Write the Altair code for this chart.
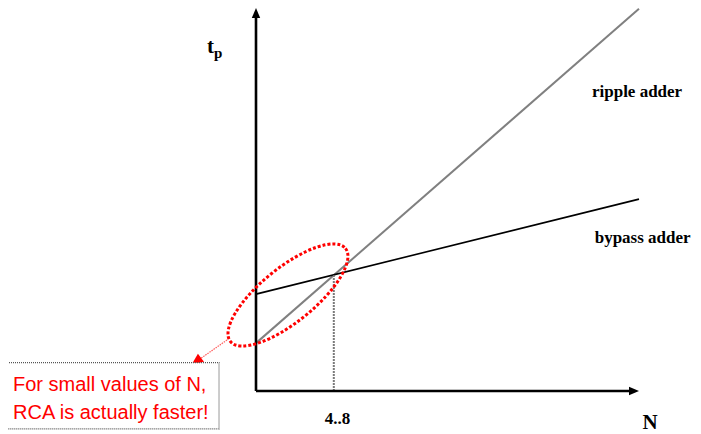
import altair as alt
import pandas as pd

# ---- data ----
N_END = [0, 32]                 # N range of the two curves
RIPPLE_T = [12.5, 99.8]         # ripple adder delay at N_END
BYPASS_T = [25.3, 50.1]         # bypass adder delay at N_END
CROSS_N = 6.5                   # crossover point
CROSS_T = 30.2

X_DOM = [0, 32]
Y_DOM = [0, 100]
PW, PH = 383, 383

xs = alt.Scale(domain=X_DOM, nice=False, zero=False)
ys = alt.Scale(domain=Y_DOM, nice=False, zero=False)


def X(f="x"):
    return alt.X(f"{f}:Q", scale=xs, axis=None)


def Y(f="y"):
    return alt.Y(f"{f}:Q", scale=ys, axis=None)


ripple_df = pd.DataFrame({"x": N_END, "y": RIPPLE_T})
bypass_df = pd.DataFrame({"x": N_END, "y": BYPASS_T})

# axes with arrowheads
axes_df = pd.DataFrame({"x": [0, 0], "y": [0, 0], "x2": [31.4, 0], "y2": [0, 98.2]})
axis_tip_df = pd.DataFrame({"x": [32, 0], "y": [0, 100], "a": [90, 0]})
ARROW_PATH = "M0,0 L-0.42,1 L0.42,1 Z"

axes = alt.Chart(axes_df).mark_rule(color="black", strokeWidth=2.6).encode(
    x=X(), y=Y(), x2="x2:Q", y2="y2:Q")
axis_tips = alt.Chart(axis_tip_df).mark_point(
    shape=ARROW_PATH, filled=True, color="black", opacity=1, size=400
).encode(x=X(), y=Y(), angle=alt.Angle("a:Q", scale=None))

ripple = alt.Chart(ripple_df).mark_line(color="#808080", strokeWidth=2).encode(x=X(), y=Y())
bypass = alt.Chart(bypass_df).mark_line(color="black", strokeWidth=1.6).encode(x=X(), y=Y())

cross_df = pd.DataFrame({"x": [CROSS_N], "y": [0], "y2": [CROSS_T]})
cross = alt.Chart(cross_df).mark_rule(color="#7a7a7a", strokeWidth=2, strokeDash=[2, 1]).encode(
    x=X(), y=Y(), y2="y2:Q")

# red dotted ellipse around the crossover region
E_A, E_B = 74, 27
e = E_B / E_A
k = 0.5523
ke = k * e
ELLIPSE = (f"M1,0 C1,{ke:.4f} {k},{e:.4f} 0,{e:.4f} "
           f"C{-k},{e:.4f} -1,{ke:.4f} -1,0 "
           f"C-1,{-ke:.4f} {-k},{-e:.4f} 0,{-e:.4f} "
           f"C{k},{-e:.4f} 1,{-ke:.4f} 1,0 Z")
ell_df = pd.DataFrame({"x": [2.67], "y": [25.07]})
ellipse = alt.Chart(ell_df).mark_point(
    shape=ELLIPSE, filled=False, color="#ff0000", opacity=1, strokeWidth=3,
    strokeDash=[3, 2], size=(2 * E_A) ** 2, angle=321
).encode(x=X(), y=Y())

# red pointer arrow
ptr_df = pd.DataFrame({"x": [-2.42], "y": [13.32], "x2": [-4.85], "y2": [8.0]})
pointer = alt.Chart(ptr_df).mark_rule(color="#ff5a5a", strokeWidth=1.2, strokeDash=[1.5, 1]).encode(
    x=X(), y=Y(), x2="x2:Q", y2="y2:Q")
ptr_tip_df = pd.DataFrame({"x": [-5.4], "y": [6.8]})
pointer_tip = alt.Chart(ptr_tip_df).mark_point(
    shape=ARROW_PATH, filled=True, color="#ff0000", opacity=1, size=576, angle=233
).encode(x=X(), y=Y())

# note box
box_df = pd.DataFrame({"x": [-21.14], "x2": [-3.09], "y": [7.4], "y2": [-9.9]})
box = alt.Chart(box_df).mark_rect(
    fill="white", stroke="#555555", strokeWidth=1.2, strokeDash=[1, 1]
).encode(x=X(), x2="x2:Q", y=Y(), y2="y2:Q")

NOTE_LINES = ["For small values of N,", "RCA is actually faster!"]
note_df = pd.DataFrame({"x": [-20.3, -20.3], "y": [-0.1, -7.3], "t": NOTE_LINES})
note = alt.Chart(note_df).mark_text(
    align="left", baseline="alphabetic", color="#ff0000", fontSize=20,
    font="Liberation Sans, Arial, sans-serif"
).encode(x=X(), y=Y(), text="t:N")

SERIF = "Liberation Serif, Times New Roman, serif"
lab_df = pd.DataFrame({"x": [28.07, 28.3], "y": [76.76, 38.64],
                       "t": ["ripple adder", "bypass adder"]})
labels = alt.Chart(lab_df).mark_text(
    align="left", baseline="alphabetic", font=SERIF, fontWeight="bold", fontSize=17, color="black"
).encode(x=X(), y=Y(), text="t:N")

tick_df = pd.DataFrame({"x": [6.81], "y": [-8.6], "t": ["4..8"]})
tick = alt.Chart(tick_df).mark_text(
    align="center", baseline="alphabetic", font=SERIF, fontWeight="bold", fontSize=17, color="black"
).encode(x=X(), y=Y(), text="t:N")

nlab_df = pd.DataFrame({"x": [32.92], "y": [-10.0], "t": ["N"]})
nlab = alt.Chart(nlab_df).mark_text(
    align="center", baseline="alphabetic", font=SERIF, fontWeight="bold", fontSize=21, color="black"
).encode(x=X(), y=Y(), text="t:N")

t_df = pd.DataFrame({"x": [-3.51], "y": [88.25], "t": ["t"]})
tlab = alt.Chart(t_df).mark_text(
    align="right", baseline="alphabetic", font=SERIF, fontWeight="bold", fontSize=21, color="black"
).encode(x=X(), y=Y(), text="t:N")
p_df = pd.DataFrame({"x": [-3.51], "y": [86.95], "t": ["p"]})
plab = alt.Chart(p_df).mark_text(
    align="left", baseline="alphabetic", font=SERIF, fontWeight="bold", fontSize=15, color="black"
).encode(x=X(), y=Y(), text="t:N")

chart = alt.layer(
    ripple, bypass, cross, axes, axis_tips, ellipse, pointer, pointer_tip,
    box, note, labels, tick, nlab, tlab, plab
).properties(
    width=PW, height=PH,
    padding={"left": 248, "top": 0, "right": 54, "bottom": 42},
    autosize="none",
    background="white",
).configure_view(stroke=None)

chart.save("out.html", embed_options={"renderer": "svg", "actions": False})
